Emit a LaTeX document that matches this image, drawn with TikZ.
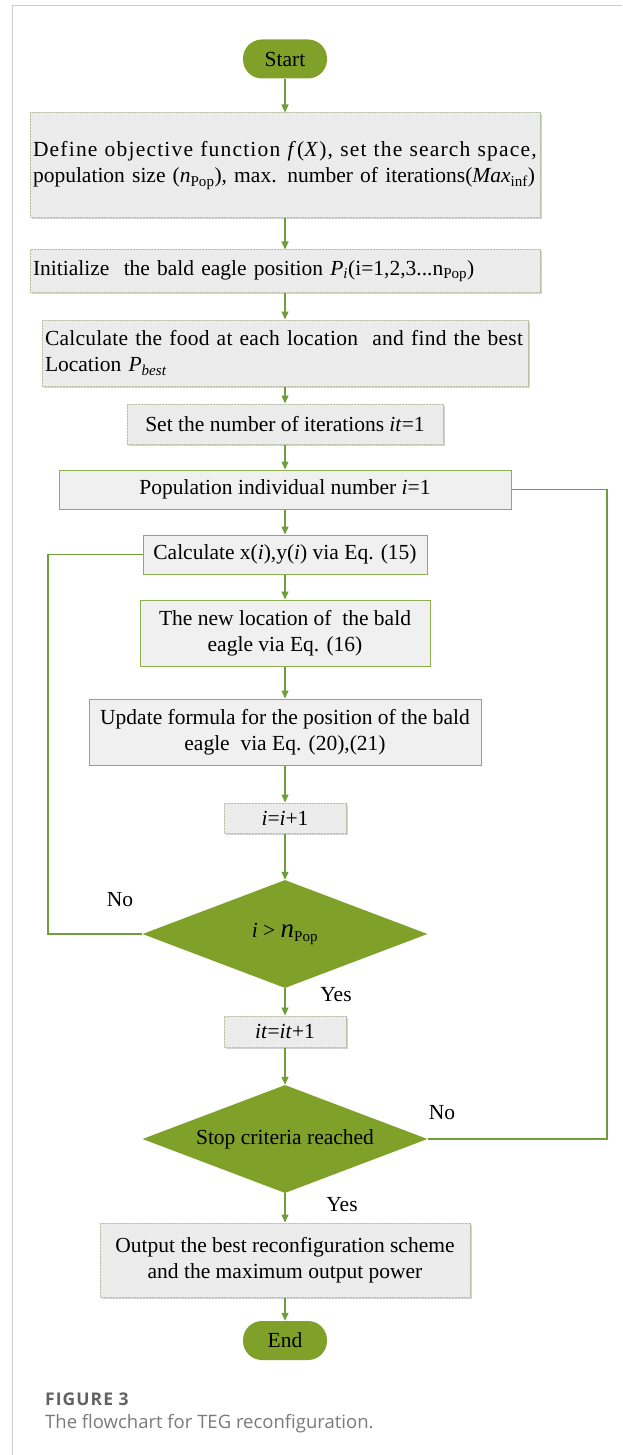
\documentclass[tikz,border=0pt]{standalone}
\usepackage{fontspec}
\setmainfont{Liberation Serif}
\newfontfamily\capfont{Open Sans}
\usetikzlibrary{arrows.meta,shapes.geometric,patterns,shadows}

\definecolor{leaf}{HTML}{7FA12A}
\definecolor{wire}{HTML}{6F9D38}
\definecolor{rimgreen}{HTML}{8DB04F}
\definecolor{rimgray}{HTML}{B7C0A0}
\definecolor{panel}{HTML}{F0F0F0}
\definecolor{stripe}{HTML}{E4E4E4}
\definecolor{framegray}{HTML}{CCCCCC}
\definecolor{capgray}{HTML}{626262}

\newcommand*{\npop}{\textit{n}\textsubscript{Pop}}

\begin{document}
\begin{tikzpicture}
[
	x=1pt, y=-1pt,
	>={Triangle[length=8pt,width=7pt]},
	font=\fontsize{21.5}{26}\selectfont,
	terminal/.style={rectangle,rounded corners=19pt,fill=leaf,minimum width=84pt,minimum height=39pt,inner sep=0pt},
	procbox/.style={rectangle,draw=rimgreen,line width=1pt,fill=panel,inner sep=3pt},
	hatchbox/.style={rectangle,draw=rimgray,line width=1pt,fill=panel,inner sep=3pt,
		drop shadow={shadow xshift=1.5pt,shadow yshift=-1.5pt,opacity=0.35},
		postaction={pattern=north west lines,pattern color=stripe}},
	decision/.style={diamond,fill=leaf,inner sep=0pt,minimum width=285pt,minimum height=108pt},
	flowline/.style={wire,line width=1.2pt}
]

	\useasboundingbox (0,0) rectangle (622,1455);

	% page frame
	\draw[framegray,line width=1pt] (12,1455) -- (12,6) -- (622,6);

	% steps
	\node[hatchbox,text width=504pt,align=left,minimum height=105pt] (define) at (285,165.5)
		{\mbox{\addfontfeature{LetterSpace=5.6}Define objective function \textit{f}(\textit{X}), set the search space,}\\
		\mbox{population size (\npop), max. number of iterations(\textit{Max}\textsubscript{inf})}};
	\node[terminal] (start) at (285,59) {Start};
	\node[hatchbox,text width=504pt,align=left,minimum height=42pt] (init) at (285,271)
		{\mbox{Initialize\ \ the bald eagle position \textit{P}\textsubscript{\textit{i}}(i=1,2,3...n\textsubscript{Pop})}};
	\node[hatchbox,text width=480pt,align=left,minimum height=66pt] (food) at (285,353)
		{\mbox{\addfontfeature{LetterSpace=1.2}Calculate the food at each location\ \ and find the best}\\ Location \textit{P}\textsubscript{\textit{best}}};
	\node[hatchbox,minimum width=316pt,minimum height=40pt] (setit) at (285,424)
		{Set the number of iterations \textit{it}=1};
	\node[procbox,minimum width=452pt,minimum height=39pt] (popnum) at (285,489.5)
		{Population individual number \textit{i}=1};
	\node[procbox,minimum width=284pt,minimum height=39pt] (calcxy) at (285,554.5)
		{Calculate x(\textit{i}),y(\textit{i}) via Eq. (15)};
	\node[procbox,align=center,minimum width=290pt,minimum height=66pt] (newloc) at (285,633)
		{The new location of\ \ the bald\\ eagle via Eq. (16)};
	\node[procbox,align=center,minimum width=392pt,minimum height=66pt] (update) at (285,732)
		{Update formula for the position of the bald\\ eagle\ \ via Eq. (20),(21)};
	\node[hatchbox,minimum width=122pt,minimum height=30pt] (inci) at (285,818) {\textit{i}=\textit{i}+1};
	\node[decision,label={center:\textit{i} > {\fontsize{27}{27}\selectfont\textit{n}}\textsubscript{Pop}}] (checki) at (285,934) {};
	\node[hatchbox,minimum width=122pt,minimum height=31pt] (incit) at (285,1031.5) {\textit{it}=\textit{it}+1};
	\node[decision,label={center:Stop criteria reached}] (stopcrit) at (285,1139) {};
	\node[hatchbox,align=center,minimum width=370pt,minimum height=74pt] (output) at (285,1260)
		{Output the best reconfiguration scheme\\ and the maximum output power};
	\node[terminal] (finish) at (285,1340.5) {End};

	% arrows
	\draw[flowline,->] (start) -- (define);
	\draw[flowline,->] (define) -- (init);
	\draw[flowline,->] (init) -- (food);
	\draw[flowline,->] (food) -- (setit);
	\draw[flowline,->] (setit) -- (popnum);
	\draw[flowline,->] (popnum) -- (calcxy);
	\draw[flowline,->] (calcxy) -- (newloc);
	\draw[flowline,->] (newloc) -- (update);
	\draw[flowline,->] (update) -- (inci);
	\draw[flowline,->] (inci) -- (checki);
	\draw[flowline,->] (checki) -- (incit);
	\draw[flowline,->] (incit) -- (stopcrit);
	\draw[flowline,->] (stopcrit) -- (output);
	\draw[flowline,->] (output) -- (finish);

	% loops back
	\coordinate (leftrail) at (48,934);
	\coordinate (rightrail) at (607,1139);
	\draw[flowline] (checki.west) -- (leftrail) |- (calcxy.west);
	\draw[flowline] (stopcrit.east) -- (rightrail) |- (popnum.east);

	% branch labels
	\node (noone) at (120,900) {No};
	\node (yesone) at (336,995) {Yes};
	\node (notwo) at (442,1113) {No};
	\node (yestwo) at (342,1205) {Yes};

	% caption
	\node[anchor=base west,inner sep=0pt,text=capgray,font=\capfont\bfseries\fontsize{17.5}{20}\selectfont\addfontfeature{LetterSpace=6}] (figno) at (45,1405) {FIGURE 3};
	\node[anchor=base west,inner sep=0pt,text=capgray!85,font=\capfont\fontsize{18.5}{22}\selectfont] (figcap) at (45,1428) {The flowchart for TEG reconfiguration.};

\end{tikzpicture}
\end{document}
